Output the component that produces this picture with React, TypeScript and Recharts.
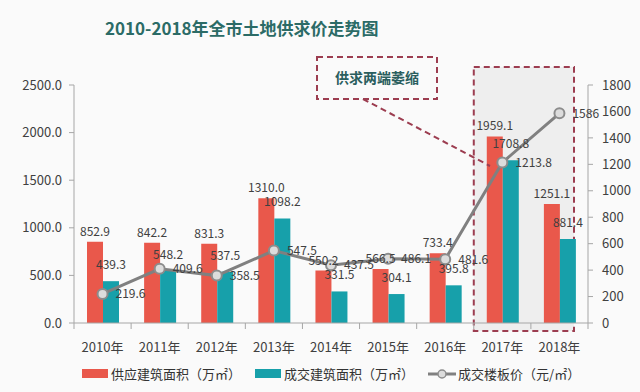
import React from "react"
import { ComposedChart, Bar, Line, XAxis, YAxis, LabelList, ReferenceArea } from "recharts"

// 年份
const years = ["2010年", "2011年", "2012年", "2013年", "2014年", "2015年", "2016年", "2017年", "2018年"]
// 供应建筑面积（万㎡）
const supplyArea = [852.9, 842.2, 831.3, 1310.0, 550.2, 566.5, 733.4, 1959.1, 1251.1]
// 成交建筑面积（万㎡）
const dealArea = [439.3, 548.2, 537.5, 1098.2, 331.5, 304.1, 395.8, 1708.8, 881.4]
// 成交楼板价（元/㎡）
const floorPrice = [219.6, 409.6, 358.5, 547.5, 437.5, 486.1, 481.6, 1213.8, 1586]

const leftTicks = [0, 500, 1000, 1500, 2000, 2500]
const rightTicks = [0, 200, 400, 600, 800, 1000, 1200, 1400, 1600, 1800]
// 高亮区间（2017-2018）
const highlightYears = ["2017年", "2018年"]
const highlightRange = [-84, 2690]

const RED = "#e9584b"
const TEAL = "#17a0aa"
const GREY = "#808080"
const MAROON = "#9c3d50"
const FONT = "'Noto Sans CJK SC', 'Noto Sans', sans-serif"

const data = years.map((year, i) => ({
  year,
  supply: supplyArea[i],
  deal: dealArea[i],
  price: floorPrice[i],
}))

const fmt1 = (v: any) => Number(v).toFixed(1)
const fmtPrice = (v: any) => (Number.isInteger(v) ? String(v) : Number(v).toFixed(1))

const XTick = (props: any) => {
  const { x, y, payload, index } = props
  const half = payload.offset ?? 28.5
  return (
    <g>
      <line x1={x - half} x2={x - half} y1={y} y2={y + 6} stroke="#a6a6a6" />
      {index === years.length - 1 && (
        <line x1={x + half} x2={x + half} y1={y} y2={y + 6} stroke="#a6a6a6" />
      )}
      <text x={x} y={y + 29} textAnchor="middle" fontSize={13} fill="#404040" fontFamily={FONT}>
        {payload.value}
      </text>
    </g>
  )
}

const HighlightBox = (props: any) => {
  const { x, y, width, height } = props
  return (
    <rect
      x={x}
      y={y}
      width={width - 14}
      height={height}
      fill="#eeeeee"
      stroke={MAROON}
      strokeWidth={2}
      strokeDasharray="6 4"
    />
  )
}

export default function App() {
  return (
    <div
      style={{
        position: "fixed",
        left: 0,
        top: 0,
        width: 640,
        height: 392,
        background: "#fafafa",
        fontFamily: FONT,
      }}
    >
      <div
        style={{
          position: "absolute",
          left: 105,
          top: 15,
          fontSize: 17,
          fontWeight: 700,
          color: "#2b6b66",
          whiteSpace: "nowrap",
        }}
      >
        2010-2018年全市土地供求价走势图
      </div>

      <ComposedChart
        width={640}
        height={392}
        data={data}
        margin={{ top: 85, right: 0, left: 14, bottom: 39 }}
        barGap={0}
        style={{ position: "absolute", left: 0, top: 0 }}
      >
        <ReferenceArea
          yAxisId="left"
          x1={highlightYears[0]}
          x2={highlightYears[1]}
          y1={highlightRange[0]}
          y2={highlightRange[1]}
          ifOverflow="visible"
          shape={HighlightBox}
        />
        <XAxis
          dataKey="year"
          axisLine={{ stroke: "#a6a6a6" }}
          tickLine={false}
          tickSize={0}
          tickMargin={0}
          height={30}
          tick={XTick}
          interval={0}
        />
        <YAxis
          yAxisId="left"
          width={60}
          domain={[0, 2500]}
          ticks={leftTicks}
          tickFormatter={fmt1}
          axisLine={{ stroke: "#a6a6a6" }}
          tickLine={{ stroke: "#a6a6a6" }}
          tickSize={5}
          tickMargin={7}
          tick={{ fontSize: 13, fill: "#404040", fontFamily: FONT }}
        />
        <YAxis
          yAxisId="right"
          orientation="right"
          width={52}
          domain={[0, 1800]}
          ticks={rightTicks}
          axisLine={{ stroke: "#a6a6a6" }}
          tickLine={{ stroke: "#a6a6a6" }}
          tickSize={5}
          tickMargin={9}
          tick={{ fontSize: 13, fill: "#404040", fontFamily: FONT, textAnchor: "start" }}
        />
        <Bar yAxisId="left" dataKey="supply" fill={RED} barSize={16} isAnimationActive={false}>
          <LabelList dataKey="supply" position="top" offset={6} formatter={fmt1} fontSize={12} fill="#404040" fontFamily={FONT} />
        </Bar>
        <Bar yAxisId="left" dataKey="deal" fill={TEAL} barSize={16} isAnimationActive={false}>
          <LabelList dataKey="deal" position="top" offset={12} formatter={fmt1} fontSize={12} fill="#404040" fontFamily={FONT} />
        </Bar>
        <Line
          yAxisId="right"
          dataKey="price"
          type="linear"
          stroke={GREY}
          strokeWidth={3}
          dot={{ r: 5, fill: "#dcdcdc", stroke: "#8c8c8c", strokeWidth: 2 }}
          isAnimationActive={false}
        >
          <LabelList dataKey="price" position="right" offset={13} formatter={fmtPrice} fontSize={12} fill="#404040" fontFamily={FONT} />
        </Line>
      </ComposedChart>

      {/* 注释框：供求两端萎缩 */}
      <svg width={640} height={392} style={{ position: "absolute", left: 0, top: 0, pointerEvents: "none" }}>
        <rect x={317} y={57} width={120} height={42} fill="none" stroke={MAROON} strokeWidth={2} strokeDasharray="6 4" />
        <line x1={363} y1={99} x2={490} y2={166} stroke={MAROON} strokeWidth={2} strokeDasharray="6 4" />
        <text x={377} y={83} textAnchor="middle" fontSize={14} fontWeight={700} fill="#2a5e5e" fontFamily={FONT}>
          供求两端萎缩
        </text>
      </svg>

      {/* 图例 */}
      <div
        style={{
          position: "absolute",
          left: 82,
          top: 364,
          display: "flex",
          alignItems: "center",
          fontSize: 13,
          color: "#333",
          whiteSpace: "nowrap",
        }}
      >
        <span style={{ display: "inline-block", width: 26, height: 9, background: RED, marginRight: 3 }} />
        <span style={{ marginRight: 14 }}>供应建筑面积（万㎡）</span>
        <span style={{ display: "inline-block", width: 26, height: 9, background: TEAL, marginRight: 3 }} />
        <span style={{ marginRight: 14 }}>成交建筑面积（万㎡）</span>
        <svg width={28} height={12} style={{ marginRight: 2 }}>
          <line x1={0} y1={6} x2={28} y2={6} stroke={GREY} strokeWidth={3} />
          <circle cx={14} cy={6} r={4} fill="#dcdcdc" stroke="#8c8c8c" strokeWidth={1.5} />
        </svg>
        <span>成交楼板价（元/㎡）</span>
      </div>
    </div>
  )
}
